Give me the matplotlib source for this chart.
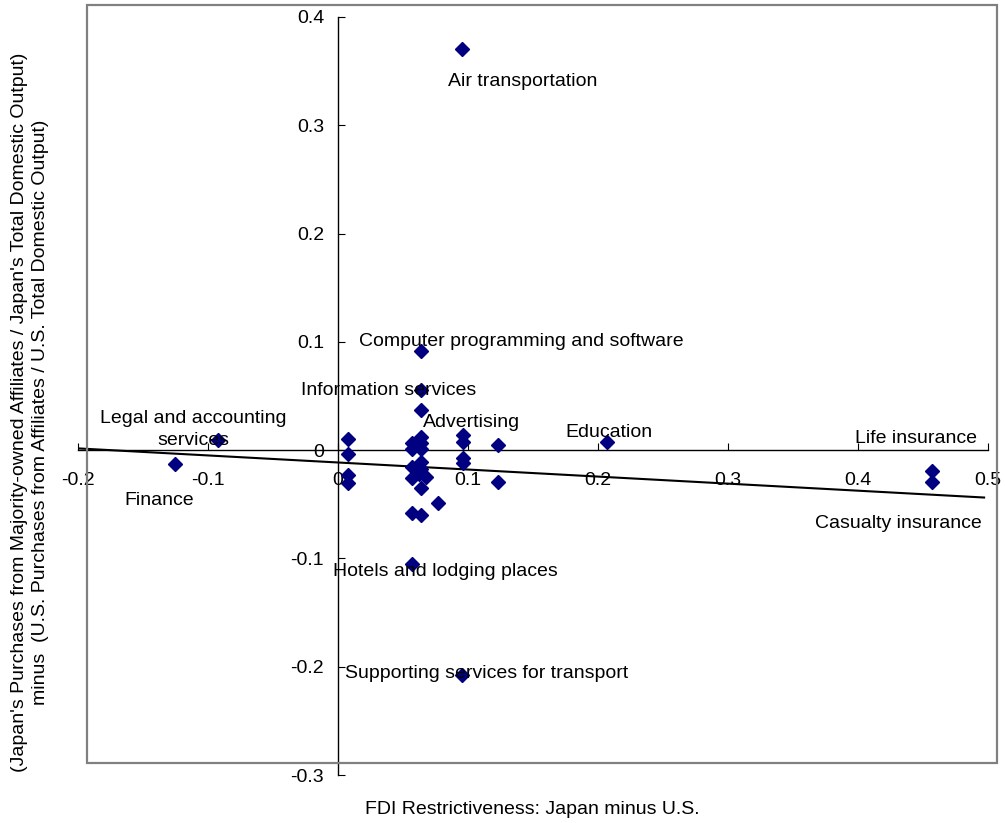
import matplotlib
matplotlib.use("Agg")
import matplotlib.pyplot as plt
from matplotlib.patches import Rectangle
import numpy as np

plt.rcParams['font.family'] = ['Liberation Sans', 'DejaVu Sans']

# FDI restrictiveness (Japan minus U.S.) vs. difference in affiliate purchase shares
fdi_diff = [
    0.0954, 0.0638, 0.0638, 0.0638,
    0.0075, 0.0075, 0.0075, 0.0075,
    0.0567, 0.0567, 0.0567, 0.0567, 0.0567, 0.0567,
    0.0640, 0.0640, 0.0640, 0.0640, 0.0640, 0.0640, 0.0640, 0.0680, 0.0620,
    0.0772,
    0.0964, 0.0964, 0.0964, 0.0964, 0.0956,
    0.1230, 0.1230,
    -0.0925, -0.1254, 0.2067, 0.4567, 0.4567,
]
purchase_diff = [
    0.370, 0.092, 0.0554, 0.037,
    0.0105, -0.0035, -0.023, -0.030,
    0.0062, 0.0006, -0.0154, -0.026, -0.0585, -0.105,
    0.0123, 0.0068, 0.0015, -0.0108, -0.017, -0.0345, -0.060, -0.0246, -0.022,
    -0.0487,
    0.0138, 0.0077, -0.0077, -0.0123, -0.2078,
    0.0046, -0.029,
    0.0092, -0.0132, 0.0077, -0.019, -0.029,
]

# linear trend
trend_slope = -0.0651
trend_intercept = -0.0114
trend_x = [-0.2, 0.497]

labels = [
    "Air transportation",
    "Computer programming and software",
    "Information services",
    "Advertising",
    "Legal and accounting\nservices",
    "Education",
    "Life insurance",
    "Finance",
    "Casualty insurance",
    "Hotels and lodging places",
    "Supporting services for transport",
]
# label placement (data coords, alignment)
label_pos = [
    (0.0846, 0.3407, 'left'),
    (0.0162, 0.1006, 'left'),
    (-0.0285, 0.0554, 'left'),
    (0.0654, 0.0259, 'left'),
    (-0.1115, 0.0189, 'center'),
    (0.1746, 0.0166, 'left'),
    (0.3977, 0.0111, 'left'),
    (-0.1646, -0.0462, 'left'),
    (0.3670, -0.0674, 'left'),
    (-0.0038, -0.1117, 'left'),
    (0.0054, -0.2059, 'left'),
]

x_ticks = [-0.2, -0.1, 0, 0.1, 0.2, 0.3, 0.4, 0.5]
x_ticklabels = ["-0.2", "-0.1", "0", "0.1", "0.2", "0.3", "0.4", "0.5"]
y_ticks = [-0.3, -0.2, -0.1, 0, 0.1, 0.2, 0.3, 0.4]
y_ticklabels = ["-0.3", "-0.2", "-0.1", "0", "0.1", "0.2", "0.3", "0.4"]

fig = plt.figure(figsize=(10.05, 8.23), dpi=100)
ax = fig.add_axes([78 / 1005, 48 / 823, 910 / 1005, 758 / 823])
ax.patch.set_visible(False)

# grey plot-area frame (slightly offset, like the original)
fig.patches.append(Rectangle((87 / 1005, 60 / 823), 910 / 1005, 758 / 823,
                             transform=fig.transFigure, fill=False,
                             edgecolor='#808080', linewidth=1.6, zorder=0))

ax.plot(fdi_diff, purchase_diff, linestyle='none', marker='D', markersize=7.6,
        color='#000080', zorder=3)

tx = np.array(trend_x)
ax.plot(tx, trend_slope * tx + trend_intercept, color='black', linewidth=1.5, zorder=2)

for lab, (lx, ly, ha) in zip(labels, label_pos):
    ax.text(lx, ly, lab, ha=ha, va='center', fontsize=14, color='black',
            linespacing=1.4, zorder=4)

ax.set_xlim(-0.2, 0.5)
ax.set_ylim(-0.3, 0.4)
ax.spines['left'].set_position(('data', 0))
ax.spines['bottom'].set_position(('data', 0))
ax.spines['top'].set_visible(False)
ax.spines['right'].set_visible(False)
for s in ('left', 'bottom'):
    ax.spines[s].set_linewidth(1.0)
    ax.spines[s].set_color('black')

ax.set_xticks(x_ticks)
ax.set_xticklabels(x_ticklabels)
ax.set_yticks(y_ticks)
ax.set_yticklabels(y_ticklabels)
ax.tick_params(axis='x', direction='in', length=5, pad=16, labelsize=14)
ax.tick_params(axis='y', direction='in', length=5, pad=10, labelsize=14)

fig.text(532 / 1005, 1 - 810 / 823, "FDI Restrictiveness: Japan minus U.S.",
         ha='center', va='center', fontsize=14)
fig.text(30 / 1005, 1 - 412 / 823,
         "(Japan's Purchases from Majority-owned Affiliates / Japan's Total Domestic Output)\n"
         "minus  (U.S. Purchases from Affiliates / U.S. Total Domestic Output)",
         ha='center', va='center', rotation=90, fontsize=14, linespacing=1.3)

fig.savefig("out.png", dpi=100)
